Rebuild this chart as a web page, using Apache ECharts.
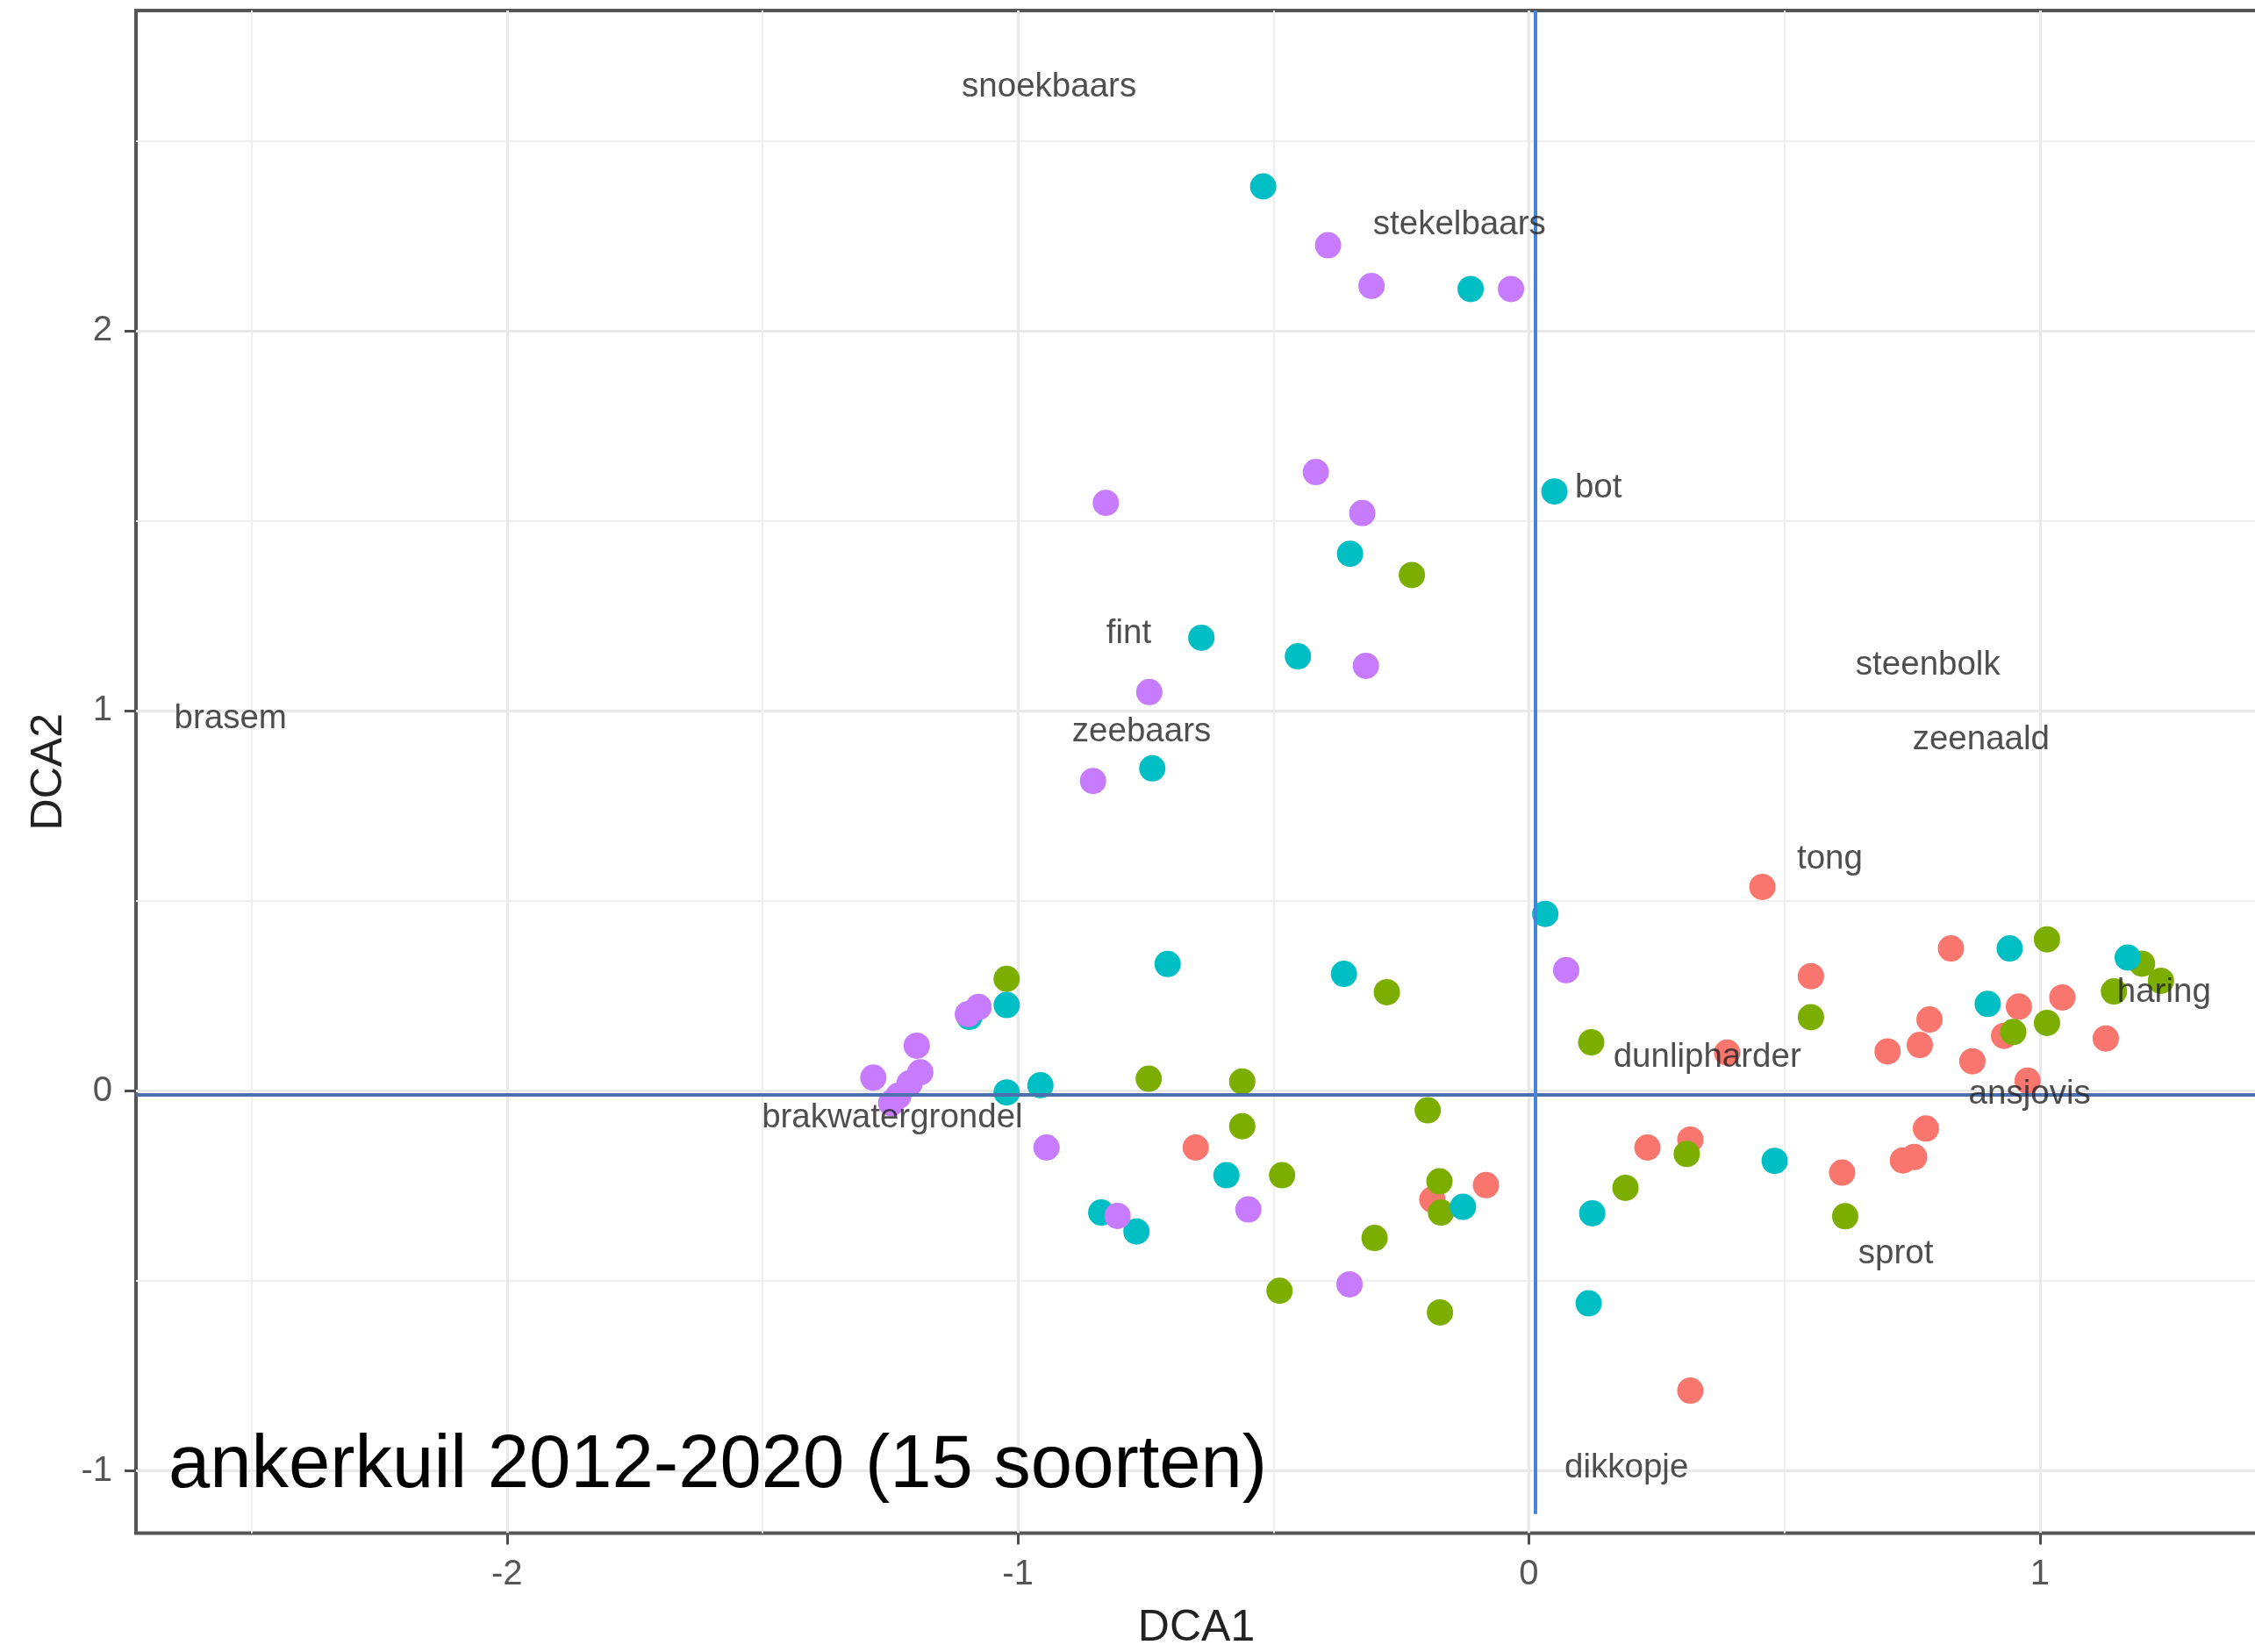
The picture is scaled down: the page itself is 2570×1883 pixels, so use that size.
<!DOCTYPE html>
<html>
<head>
<meta charset="utf-8">
<script src="https://cdn.jsdelivr.net/npm/echarts@6/dist/echarts.min.js"></script>
<style>
html,body{margin:0;padding:0;background:#fff;}
#chart{width:2570px;height:1883px;}
</style>
</head>
<body>
<div id="chart"></div>
<script>
// ---- data ----
const groupColors = ['#F8766D', '#7CAE00', '#00BFC4', '#C77CFF'];

const redPoints = [
  [-0.652,-0.149],[-0.084,-0.248],[-0.189,-0.286],[0.232,-0.149],[0.316,-0.128],
  [0.316,-0.789],[0.388,0.101],[0.457,0.537],[0.552,0.302],[0.613,-0.215],
  [0.702,0.104],[0.765,0.121],[0.784,0.188],[0.732,-0.183],[0.754,-0.174],
  [0.777,-0.099],[0.826,0.375],[0.868,0.078],[0.930,0.145],[0.959,0.222],
  [0.976,0.027],[1.044,0.246],[1.129,0.138]
];
const greenPoints = [
  [-0.229,1.358],[-1.022,0.295],[-0.744,0.032],[-0.561,0.025],[-0.561,-0.093],
  [-0.483,-0.222],[-0.488,-0.526],[-0.302,-0.387],[-0.278,0.260],[-0.198,-0.051],
  [-0.175,-0.238],[-0.172,-0.320],[-0.174,-0.583],[0.122,0.128],[0.189,-0.255],
  [0.309,-0.166],[0.552,0.194],[0.619,-0.330],[0.948,0.155],[1.014,0.179],
  [1.014,0.399],[1.145,0.262],[1.200,0.335],[1.237,0.290]
];
const cyanPoints = [
  [-0.520,2.381],[-0.114,2.111],[0.050,1.578],[-0.350,1.414],[-0.641,1.193],
  [-0.452,1.144],[-0.737,0.849],[0.032,0.466],[-0.707,0.334],[-0.362,0.308],
  [-1.022,0.226],[-1.095,0.195],[-1.022,-0.004],[-0.956,0.015],[-0.592,-0.222],
  [-0.837,-0.320],[-0.768,-0.370],[-0.129,-0.305],[0.124,-0.322],[0.117,-0.559],
  [0.481,-0.184],[0.941,0.375],[0.898,0.229],[1.172,0.351]
];
const purplePoints = [
  [-0.393,2.226],[-0.308,2.119],[-0.035,2.111],[-0.417,1.629],[-0.828,1.548],
  [-0.326,1.521],[-0.319,1.119],[-0.743,1.050],[-0.853,0.816],[0.073,0.318],
  [-1.098,0.202],[-1.077,0.221],[-1.198,0.119],[-1.283,0.035],[-1.191,0.049],
  [-1.212,0.020],[-1.234,-0.013],[-1.248,-0.032],[-0.944,-0.149],[-0.805,-0.329],
  [-0.549,-0.312],[-0.351,-0.509]
];

const speciesNames = ['snoekbaars','stekelbaars','bot','fint','brasem','steenbolk','zeenaald',
  'zeebaars','tong','haring','dunlipharder','ansjovis','brakwatergrondel','sprot','dikkopje'];
const speciesX = [-0.939,-0.136,0.136,-0.783,-2.541,0.781,0.885,-0.758,0.589,1.243,0.349,0.980,-1.246,0.718,0.191];
const speciesY = [2.642,2.280,1.586,1.203,0.979,1.121,0.923,0.945,0.610,0.260,0.087,-0.008,-0.071,-0.429,-0.992];

const xTicks = [-2, -1, 0, 1];
const yTicks = [-1, 0, 1, 2];
const xMinorTicks = [-2.5, -1.5, -0.5, 0.5];
const yMinorTicks = [-0.5, 0.5, 1.5, 2.5];

const refH = -0.008;      // horizontal reference line (DCA2)
const refV = 0.012;       // vertical reference line (DCA1)
const refVEnd = -1.114;   // lower end of the vertical line

const xMin = -2.726, xMax = 1.4245, yMin = -1.164, yMax = 2.844;

const titleText = 'ankerkuil 2012-2020 (15 soorten)';

// ---- chart ----
const FONT = 'Liberation Sans, Arial, sans-serif';
const chart = echarts.init(document.getElementById('chart'), null, {renderer: 'canvas'});

function pointSeries(data, color) {
  return {
    type: 'scatter', xAxisIndex: 0, yAxisIndex: 0,
    data: data, symbol: 'circle', symbolSize: 30,
    itemStyle: {color: color, opacity: 1},
    z: 3, silent: true
  };
}

const labelData = speciesNames.map((n, i) => ({name: n, value: [speciesX[i], speciesY[i]]}));

const option = {
  animation: false,
  backgroundColor: '#ffffff',
  title: {
    text: titleText,
    left: 187, top: 1624,
    textStyle: {fontFamily: FONT, fontSize: 85, fontWeight: 'normal', color: '#000'}
  },
  grid: {
    left: 155, top: 12, width: 2417, height: 1735.5,
    containLabel: false, outerBoundsMode: 'none',
    show: true, borderColor: '#555555', borderWidth: 4, backgroundColor: 'transparent'
  },
  xAxis: [
    {
      type: 'value', min: xMin, max: xMax, splitNumber: 5,
      position: 'bottom',
      name: 'DCA1', nameLocation: 'middle', nameGap: 84,
      nameTextStyle: {fontFamily: FONT, fontSize: 50, color: '#222'},
      axisLine: {show: false, onZero: false},
      axisTick: {show: true, customValues: xTicks, length: 13, lineStyle: {color: '#4d4d4d', width: 3}},
      axisLabel: {show: true, customValues: xTicks, margin: 27, fontFamily: FONT, fontSize: 40, color: '#555'},
      splitLine: {show: true, lineStyle: {color: '#e9e9e9', width: 3}}
    },
    {
      type: 'value', min: xMin, max: xMax, splitNumber: 8,
      position: 'top',
      axisLine: {show: false, onZero: false},
      axisTick: {show: false, customValues: xMinorTicks},
      axisLabel: {show: false, customValues: xMinorTicks},
      splitLine: {show: true, lineStyle: {color: '#efefef', width: 2}}
    }
  ],
  yAxis: [
    {
      type: 'value', min: yMin, max: yMax, splitNumber: 4,
      position: 'left',
      name: 'DCA2', nameLocation: 'middle', nameGap: 72, nameRotate: 90,
      nameTextStyle: {fontFamily: FONT, fontSize: 50, color: '#222'},
      axisLine: {show: false, onZero: false},
      axisTick: {show: true, customValues: yTicks, length: 13, lineStyle: {color: '#4d4d4d', width: 3}},
      axisLabel: {show: true, customValues: yTicks, margin: 27, fontFamily: FONT, fontSize: 40, color: '#555'},
      splitLine: {show: true, lineStyle: {color: '#e9e9e9', width: 3}}
    },
    {
      type: 'value', min: yMin, max: yMax, splitNumber: 8,
      position: 'right',
      axisLine: {show: false, onZero: false},
      axisTick: {show: false, customValues: yMinorTicks},
      axisLabel: {show: false, customValues: yMinorTicks},
      splitLine: {show: true, lineStyle: {color: '#efefef', width: 2}}
    }
  ],
  series: [
    pointSeries(redPoints, groupColors[0]),
    pointSeries(greenPoints, groupColors[1]),
    pointSeries(cyanPoints, groupColors[2]),
    pointSeries(purplePoints, groupColors[3]),
    {
      type: 'scatter', xAxisIndex: 0, yAxisIndex: 0,
      data: labelData, symbolSize: 1,
      itemStyle: {color: 'rgba(0,0,0,0)'},
      label: {
        show: true, position: 'inside', formatter: '{b}',
        fontFamily: FONT, fontSize: 38.5, color: '#222222'
      },
      z: 5, silent: true
    },
    {
      type: 'scatter', xAxisIndex: 0, yAxisIndex: 0, data: [],
      z: 10, silent: true,
      markLine: {
        silent: true, symbol: 'none', label: {show: false},
        data: [
          {yAxis: refH, lineStyle: {color: '#4b70ad', width: 4, type: 'solid'}},
          [{coord: [refV, yMax], lineStyle: {color: '#4385dd', width: 4, type: 'solid'}},
           {coord: [refV, refVEnd]}]
        ]
      }
    }
  ]
};
chart.setOption(option);
</script>
</body>
</html>
